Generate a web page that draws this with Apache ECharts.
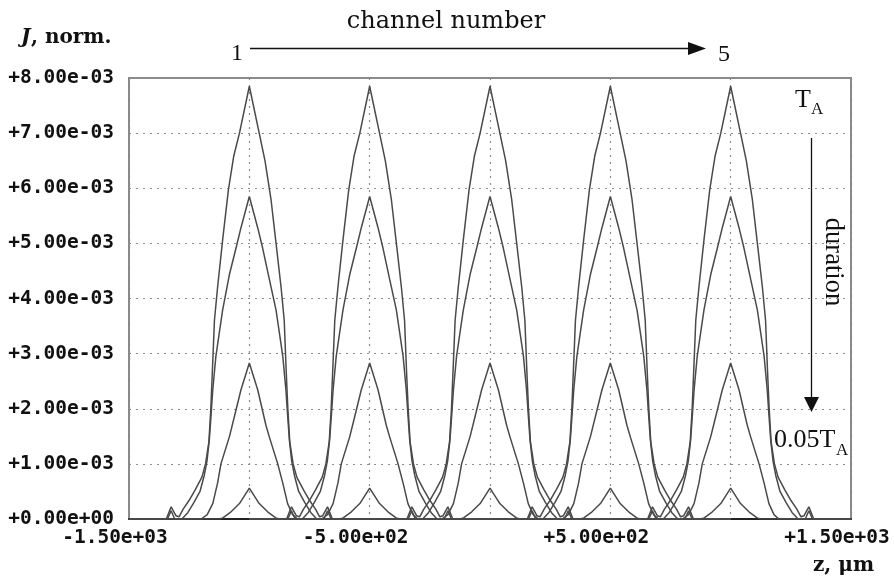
<!DOCTYPE html>
<html>
<head>
<meta charset="utf-8">
<script src="https://cdn.jsdelivr.net/npm/echarts@6/dist/echarts.min.js"></script>
<style>html,body{margin:0;padding:0;background:#fff}#c{width:894px;height:580px}</style>
</head>
<body>
<div id="c"></div>
<script>
// ---- data (J values in units of 1e-3) ----
const J_UNIT = 1e-3;
const channelCenters = [-1000, -500, 0, 500, 1000];   // z, um
const levelNames = ['T_A', 'mid1', 'mid2', '0.05T_A'];

// per-channel profile: offset from channel centre (um) and J (1e-3)
const offsetsA = [-500, -345, -325, -305, -292, -275, -250, -225, -197, -182, -168, -160, -152, -145, -132, -111, -87, -65, -41, 0, 41, 65, 90, 111, 132, 145, 153, 160, 168, 182, 197, 225, 250, 275, 292, 305, 325, 345, 500];
const valuesA  = [0, 0, 0.22, 0.06, 0.04, 0.18, 0.34, 0.53, 0.76, 1.0, 1.4, 2.0, 2.85, 3.6, 4.2, 5.06, 5.97, 6.58, 7.0, 7.85, 7.0, 6.5, 5.8, 5.0, 4.2, 3.6, 2.7, 2.0, 1.4, 1.0, 0.76, 0.53, 0.34, 0.18, 0.04, 0.06, 0.22, 0, 0];

const offsetsB = [-500, -340, -325, -310, -280, -255, -230, -205, -188, -176, -166, -158, -152, -139, -125, -111, -83, -55, -35, 0, 35, 55, 83, 111, 125, 139, 152, 158, 166, 176, 188, 205, 230, 255, 280, 310, 325, 340, 500];
const valuesB  = [0, 0, 0.15, 0, 0, 0.12, 0.3, 0.5, 0.78, 1.05, 1.45, 1.95, 2.34, 2.95, 3.37, 3.79, 4.43, 4.92, 5.28, 5.85, 5.28, 4.92, 4.35, 3.79, 3.37, 2.95, 2.34, 1.95, 1.45, 1.05, 0.78, 0.5, 0.3, 0.12, 0, 0, 0.15, 0, 0];

const offsetsC = [-500, -200, -175, -152, -132, -118, -83, -62, -35, 0, 35, 69, 83, 118, 139, 159, 180, 200, 500];
const valuesC  = [0, 0, 0.08, 0.28, 0.65, 1.0, 1.49, 1.86, 2.34, 2.83, 2.34, 1.7, 1.49, 1.0, 0.65, 0.28, 0.08, 0, 0];

const offsetsD = [-500, -125, -110, -76, -41, 0, 41, 76, 110, 125, 500];
const valuesD  = [0, 0, 0.02, 0.13, 0.28, 0.56, 0.28, 0.13, 0.02, 0, 0];

const xTicks = { min: -1500, max: 1500, step: 500, labelStep: 1000 };
const yTicks = { min: 0, max: 8e-3, step: 1e-3 };

// ---- build ----
const profiles = [[offsetsA, valuesA], [offsetsB, valuesB], [offsetsC, valuesC], [offsetsD, valuesD]];
const series = [];
profiles.forEach(function (p, li) {
  channelCenters.forEach(function (c, ci) {
    series.push({
      type: 'line', name: levelNames[li] + '_' + (ci + 1),
      data: p[0].map(function (o, i) { return [c + o, p[1][i] * J_UNIT]; }),
      showSymbol: false, symbol: 'none', silent: true, animation: false,
      lineStyle: { color: '#4a4a4a', width: 1.5 }, z: 3
    });
  });
});

function fmt(v) {
  let s = Number(v).toExponential(2).replace(/e([+-])(\d)$/, 'e$10$2');
  if (v >= 0) s = '+' + s;
  return s;
}

const tickFont = { fontFamily: 'DejaVu Sans Mono', fontWeight: 'bold', fontSize: 19.5, color: '#111' };

function txt(x, y, text, size, family, extra) {
  return Object.assign({
    type: 'text', x: x, y: y,
    style: Object.assign({ text: text, fontSize: size, fontFamily: family, fill: '#111', verticalAlign: 'middle' }, (extra && extra.style) || {})
  }, (extra && extra.el) || {});
}

const chart = echarts.init(document.getElementById('c'), null, { renderer: 'canvas' });
chart.setOption({
  animation: false,
  backgroundColor: '#fff',
  grid: { left: 129, top: 78, right: 43, bottom: 61, show: true, borderColor: '#8a8a8a', borderWidth: 2, backgroundColor: 'transparent' },
  xAxis: {
    type: 'value', min: xTicks.min, max: xTicks.max, interval: xTicks.step,
    axisLine: { show: true, onZero: false, lineStyle: { color: '#222', width: 2 } },
    axisTick: { show: false },
    splitLine: { show: true, lineStyle: { color: '#8c8c8c', type: [2, 5], width: 1.2 } },
    axisLabel: Object.assign({
      margin: 9, padding: [0, 28, 0, 0],
      formatter: function (v) { return ((v - xTicks.min) % xTicks.labelStep === 0) ? fmt(v) : ''; }
    }, tickFont)
  },
  yAxis: {
    type: 'value', min: yTicks.min, max: yTicks.max, interval: yTicks.step,
    axisLine: { show: false }, axisTick: { show: false },
    splitLine: { show: true, lineStyle: { color: '#8c8c8c', type: [2, 5], width: 1.2 } },
    axisLabel: Object.assign({ margin: 15, formatter: fmt }, tickFont)
  },
  series: series,
  graphic: [
    txt(21, 38, 'J', 20, 'DejaVu Serif', { style: { fontWeight: 'bold', fontStyle: 'italic' } }),
    txt(31, 38, ', norm.', 20, 'DejaVu Serif', { style: { fontWeight: 'bold' } }),
    txt(813, 566, 'z, μm', 20, 'DejaVu Serif', { style: { fontWeight: 'bold' } }),

    txt(446, 22, 'channel number', 24, 'DejaVu Serif', { style: { align: 'center' } }),
    txt(237, 54, '1', 24, 'Liberation Serif', { style: { align: 'center' } }),
    txt(724, 55, '5', 24, 'Liberation Serif', { style: { align: 'center' } }),
    { type: 'line', shape: { x1: 250, y1: 48.5, x2: 692, y2: 48.5 }, style: { stroke: '#111', lineWidth: 1.3 } },
    { type: 'polygon', shape: { points: [[688, 42], [706, 48.5], [688, 55]] }, style: { fill: '#111' } },

    txt(795, 100, 'T', 26, 'Liberation Serif'),
    txt(811, 110, 'A', 17, 'Liberation Serif'),
    { type: 'line', shape: { x1: 811.5, y1: 138, x2: 811.5, y2: 400 }, style: { stroke: '#111', lineWidth: 1.3 } },
    { type: 'polygon', shape: { points: [[804, 397], [819, 397], [811.5, 412]] }, style: { fill: '#111' } },
    txt(833, 262, 'duration', 26.5, 'Liberation Serif', { style: { align: 'center' }, el: { rotation: -Math.PI / 2 } }),

    txt(774, 440, '0.05T', 26, 'Liberation Serif'),
    txt(836, 451, 'A', 17, 'Liberation Serif')
  ]
});
</script>
</body>
</html>
